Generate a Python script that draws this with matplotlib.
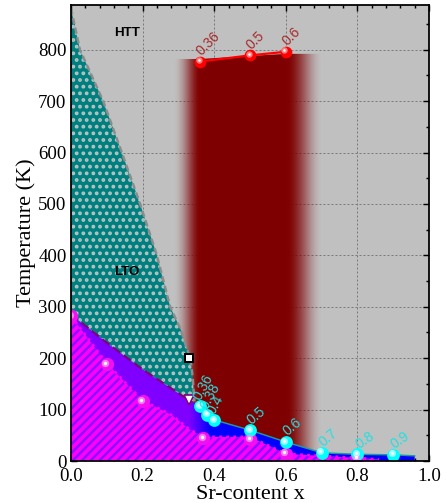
import matplotlib
matplotlib.use("Agg")
import matplotlib.pyplot as plt
import numpy as np
from matplotlib.patches import Polygon
from matplotlib.ticker import MultipleLocator
from matplotlib.transforms import offset_copy

# HTT / LTO phase boundary (gray dashed edge of the teal region)
lto_x = [0.0, 0.025, 0.09, 0.142, 0.193, 0.24, 0.277, 0.307, 0.318, 0.333, 0.34, 0.343, 0.345]
lto_t = [880, 800, 700, 600, 500, 400, 300, 255, 230, 200, 163, 132, 116]

# upper edge of the purple region (dashed)
purple_x = [0.0, 0.1, 0.2, 0.33]
purple_t = [285, 230, 178, 118]

# cyan points, superconducting-like line
cyan_x = [0.36, 0.38, 0.40, 0.50, 0.60, 0.70, 0.80, 0.90]
cyan_t = [107, 90, 80, 60, 37, 16, 13, 12]
cyan_labels = ["0.36", "0.38", "0.4", "0.5", "0.6", "0.7", "0.8", "0.9"]
cyan_rot = [62, 62, 62, 40, 40, 40, 35, 35]
blue_end_x = 0.96
blue_end_t = 10

# magenta points and edge of the hatched region
mag_x = [0.0, 0.1, 0.2, 0.37, 0.5, 0.6, 0.8]
mag_t = [282, 189, 117, 45, 43, 14, 6]
mag_edge_x = [0.0, 0.1, 0.2, 0.28, 0.33, 0.37, 0.5, 0.6, 0.8, 0.86]
mag_edge_t = [282, 190, 118, 90, 62, 47, 47, 14, 6, 3]

# red points on top of the dark red band
red_x = [0.36, 0.5, 0.6]
red_t = [777, 789, 796]
red_labels = ["0.36", "0.5", "0.6"]

square_x, square_t = [0.33], [200]
tri_x, tri_t = [0.33], [118]

SERIF = ["Liberation Serif", "DejaVu Serif"]
SANS = ["Liberation Sans", "DejaVu Sans"]


def spheres(ax, xs, ys, color, light, size, z, core=0.22):
  ax.plot(xs, ys, "o", color=color, ms=size, mew=0, zorder=z)
  tr = offset_copy(ax.transData, fig=ax.figure, x=-1.2, y=1.2, units="points")
  ax.plot(xs, ys, "o", color=light, ms=size * 0.55, mew=0, alpha=0.85, transform=tr, zorder=z + 0.1)
  ax.plot(xs, ys, "o", color="white", ms=size * core, mew=0, transform=tr, zorder=z + 0.2)


def red_band(ax):
  x0, x1 = 0.27, 0.72
  xs = np.linspace(x0, x1, 500)
  t_left = np.clip((xs - 0.285) / (0.36 - 0.285), 0, 1)
  t_right = np.clip((0.70 - xs) / (0.70 - 0.60), 0, 1)
  t = np.minimum(t_left, t_right)
  t = t * t * (3 - 2 * t)
  dark = np.array([0.5, 0.0, 0.0])
  white_mix = np.where(xs < 0.45, 0.15 * (1 - t), 0.0)
  rgb = dark[None, :] * (1 - white_mix[:, None]) + white_mix[:, None]
  img = np.zeros((1, len(xs), 4))
  img[0, :, :3] = rgb
  img[0, :, 3] = t
  im = ax.imshow(img, extent=[x0, x1, 0, 800], aspect="auto", origin="lower",
                 interpolation="bilinear", zorder=1)
  clip = Polygon([(x0, 0), (x0, 782), (0.36, 782), (0.6, 792), (x1, 792), (x1, 0)],
                 closed=True, transform=ax.transData)
  im.set_clip_path(clip)


def lower_region(ax):
  xs = np.linspace(0, blue_end_x, 400)
  t = np.clip((xs - 0.33) / (0.39 - 0.33), 0, 1)
  purple = np.array([0.5, 0.0, 1.0])
  blue = np.array([0.0, 0.0, 1.0])
  img = np.ones((1, len(xs), 4))
  img[0, :, :3] = purple[None, :] * (1 - t[:, None]) + blue[None, :] * t[:, None]
  im = ax.imshow(img, extent=[0, blue_end_x, 0, 300], aspect="auto", origin="lower",
                 interpolation="bilinear", zorder=3)
  top = list(zip(purple_x, purple_t)) + list(zip(cyan_x, cyan_t)) + [(blue_end_x, blue_end_t)]
  clip = Polygon(top + [(blue_end_x, 0), (0, 0)], closed=True, transform=ax.transData)
  im.set_clip_path(clip)


def main():
  plt.rcParams["hatch.linewidth"] = 2.2
  fig = plt.figure(figsize=(446 / 80, 503 / 80), dpi=80)
  ax = fig.add_axes([71 / 446, 1 - 461 / 503, 358 / 446, 456 / 503])
  ax.set_facecolor("#c0c0c0")
  ax.set_xlim(0, 1.0)
  ax.set_ylim(0, 887)

  ax.set_axisbelow(True)
  ax.grid(True, which="major", color="#7a7a7a", lw=0.9, ls=(0, (2, 2)))

  red_band(ax)

  # LTO region
  lto_poly = list(zip(lto_x, lto_t)) + list(zip(purple_x[::-1], purple_t[::-1]))
  ax.add_patch(Polygon(lto_poly, closed=True, facecolor="#007f7f", edgecolor="#b8c4c4",
                       lw=0, hatch="..", zorder=2))
  ax.plot(lto_x, lto_t, color="#8c8c8c", lw=2.2, ls=(0, (2.5, 1.5)), zorder=2.5)

  lower_region(ax)

  # magenta hatched region
  mag_poly = list(zip(mag_edge_x, mag_edge_t)) + [(mag_edge_x[-1], 0), (0, 0)]
  ax.add_patch(Polygon(mag_poly, closed=True, facecolor="#ff00ff", edgecolor="#8a10ff",
                       lw=0, hatch="///", zorder=4))
  ax.plot(mag_edge_x, mag_edge_t, color="#ff00ff", lw=2.4, ls=":", zorder=5)

  ax.plot(purple_x, purple_t, color="#7f007f", lw=2.0, ls=(0, (4, 2)), zorder=5)
  ax.plot(cyan_x[2:] + [blue_end_x], cyan_t[2:] + [blue_end_t], color="#1f9a9a", lw=1.3, zorder=5)
  ax.plot(red_x, red_t, color="#ff0000", lw=2.0, zorder=5)

  spheres(ax, mag_x, mag_t, "#f010f0", "#ff8cff", 12, 6, core=0.25)
  spheres(ax, cyan_x, cyan_t, "#00ffff", "#b8ffff", 11.5, 6)
  spheres(ax, red_x, red_t, "#ff0000", "#ff9090", 10.5, 6)

  ax.plot(square_x, square_t, "s", ms=7.5, mfc="white", mec="black", mew=1.8, zorder=7)
  ax.plot(tri_x, tri_t, "v", ms=9, mfc="white", mec="#800080", mew=1.5, zorder=7)

  for x, t, lab in zip(red_x, red_t, red_labels):
    ax.annotate(lab, (x, t), xytext=(3, 3), textcoords="offset points", rotation=45,
                rotation_mode="anchor", ha="left", va="bottom", color="#a52a2a",
                fontsize=12.5, family=SANS, zorder=8)
  for x, t, lab, rot in zip(cyan_x, cyan_t, cyan_labels, cyan_rot):
    ax.annotate(lab, (x, t), xytext=(3, 3), textcoords="offset points", rotation=rot,
                rotation_mode="anchor", ha="left", va="bottom", color="#22e0e0",
                fontsize=12.5, family=SANS, zorder=8)

  ax.text(0.156, 833, "HTT", ha="center", va="center", fontsize=12, fontweight="bold",
          family=SANS, zorder=8)
  ax.text(0.156, 368, "LTO", ha="center", va="center", fontsize=12, fontweight="bold",
          family=SANS, zorder=8)

  ax.xaxis.set_minor_locator(MultipleLocator(0.04))
  ax.yaxis.set_minor_locator(MultipleLocator(50))
  ax.set_xticks(np.arange(0, 1.01, 0.2))
  ax.set_xticklabels([f"{v:.1f}" for v in np.arange(0, 1.01, 0.2)])
  ax.set_yticks(np.arange(0, 801, 100))
  ax.tick_params(which="both", direction="in", top=True, right=True, width=1.3)
  ax.tick_params(which="major", length=5, labelsize=17)
  ax.tick_params(axis="x", which="major", pad=6)
  ax.tick_params(axis="y", which="major", pad=4)
  ax.tick_params(which="minor", length=3)
  for lab in ax.get_xticklabels() + ax.get_yticklabels():
    lab.set_family(SERIF)
  for s in ax.spines.values():
    s.set_linewidth(1.6)
    s.set_zorder(10)

  ax.set_xlabel("Sr-content x", fontsize=20, family=SERIF, labelpad=0)
  ax.set_ylabel("Temperature (K)", fontsize=20, family=SERIF, labelpad=2)

  fig.savefig("out.png", dpi=80)


if __name__ == "__main__":
  main()
